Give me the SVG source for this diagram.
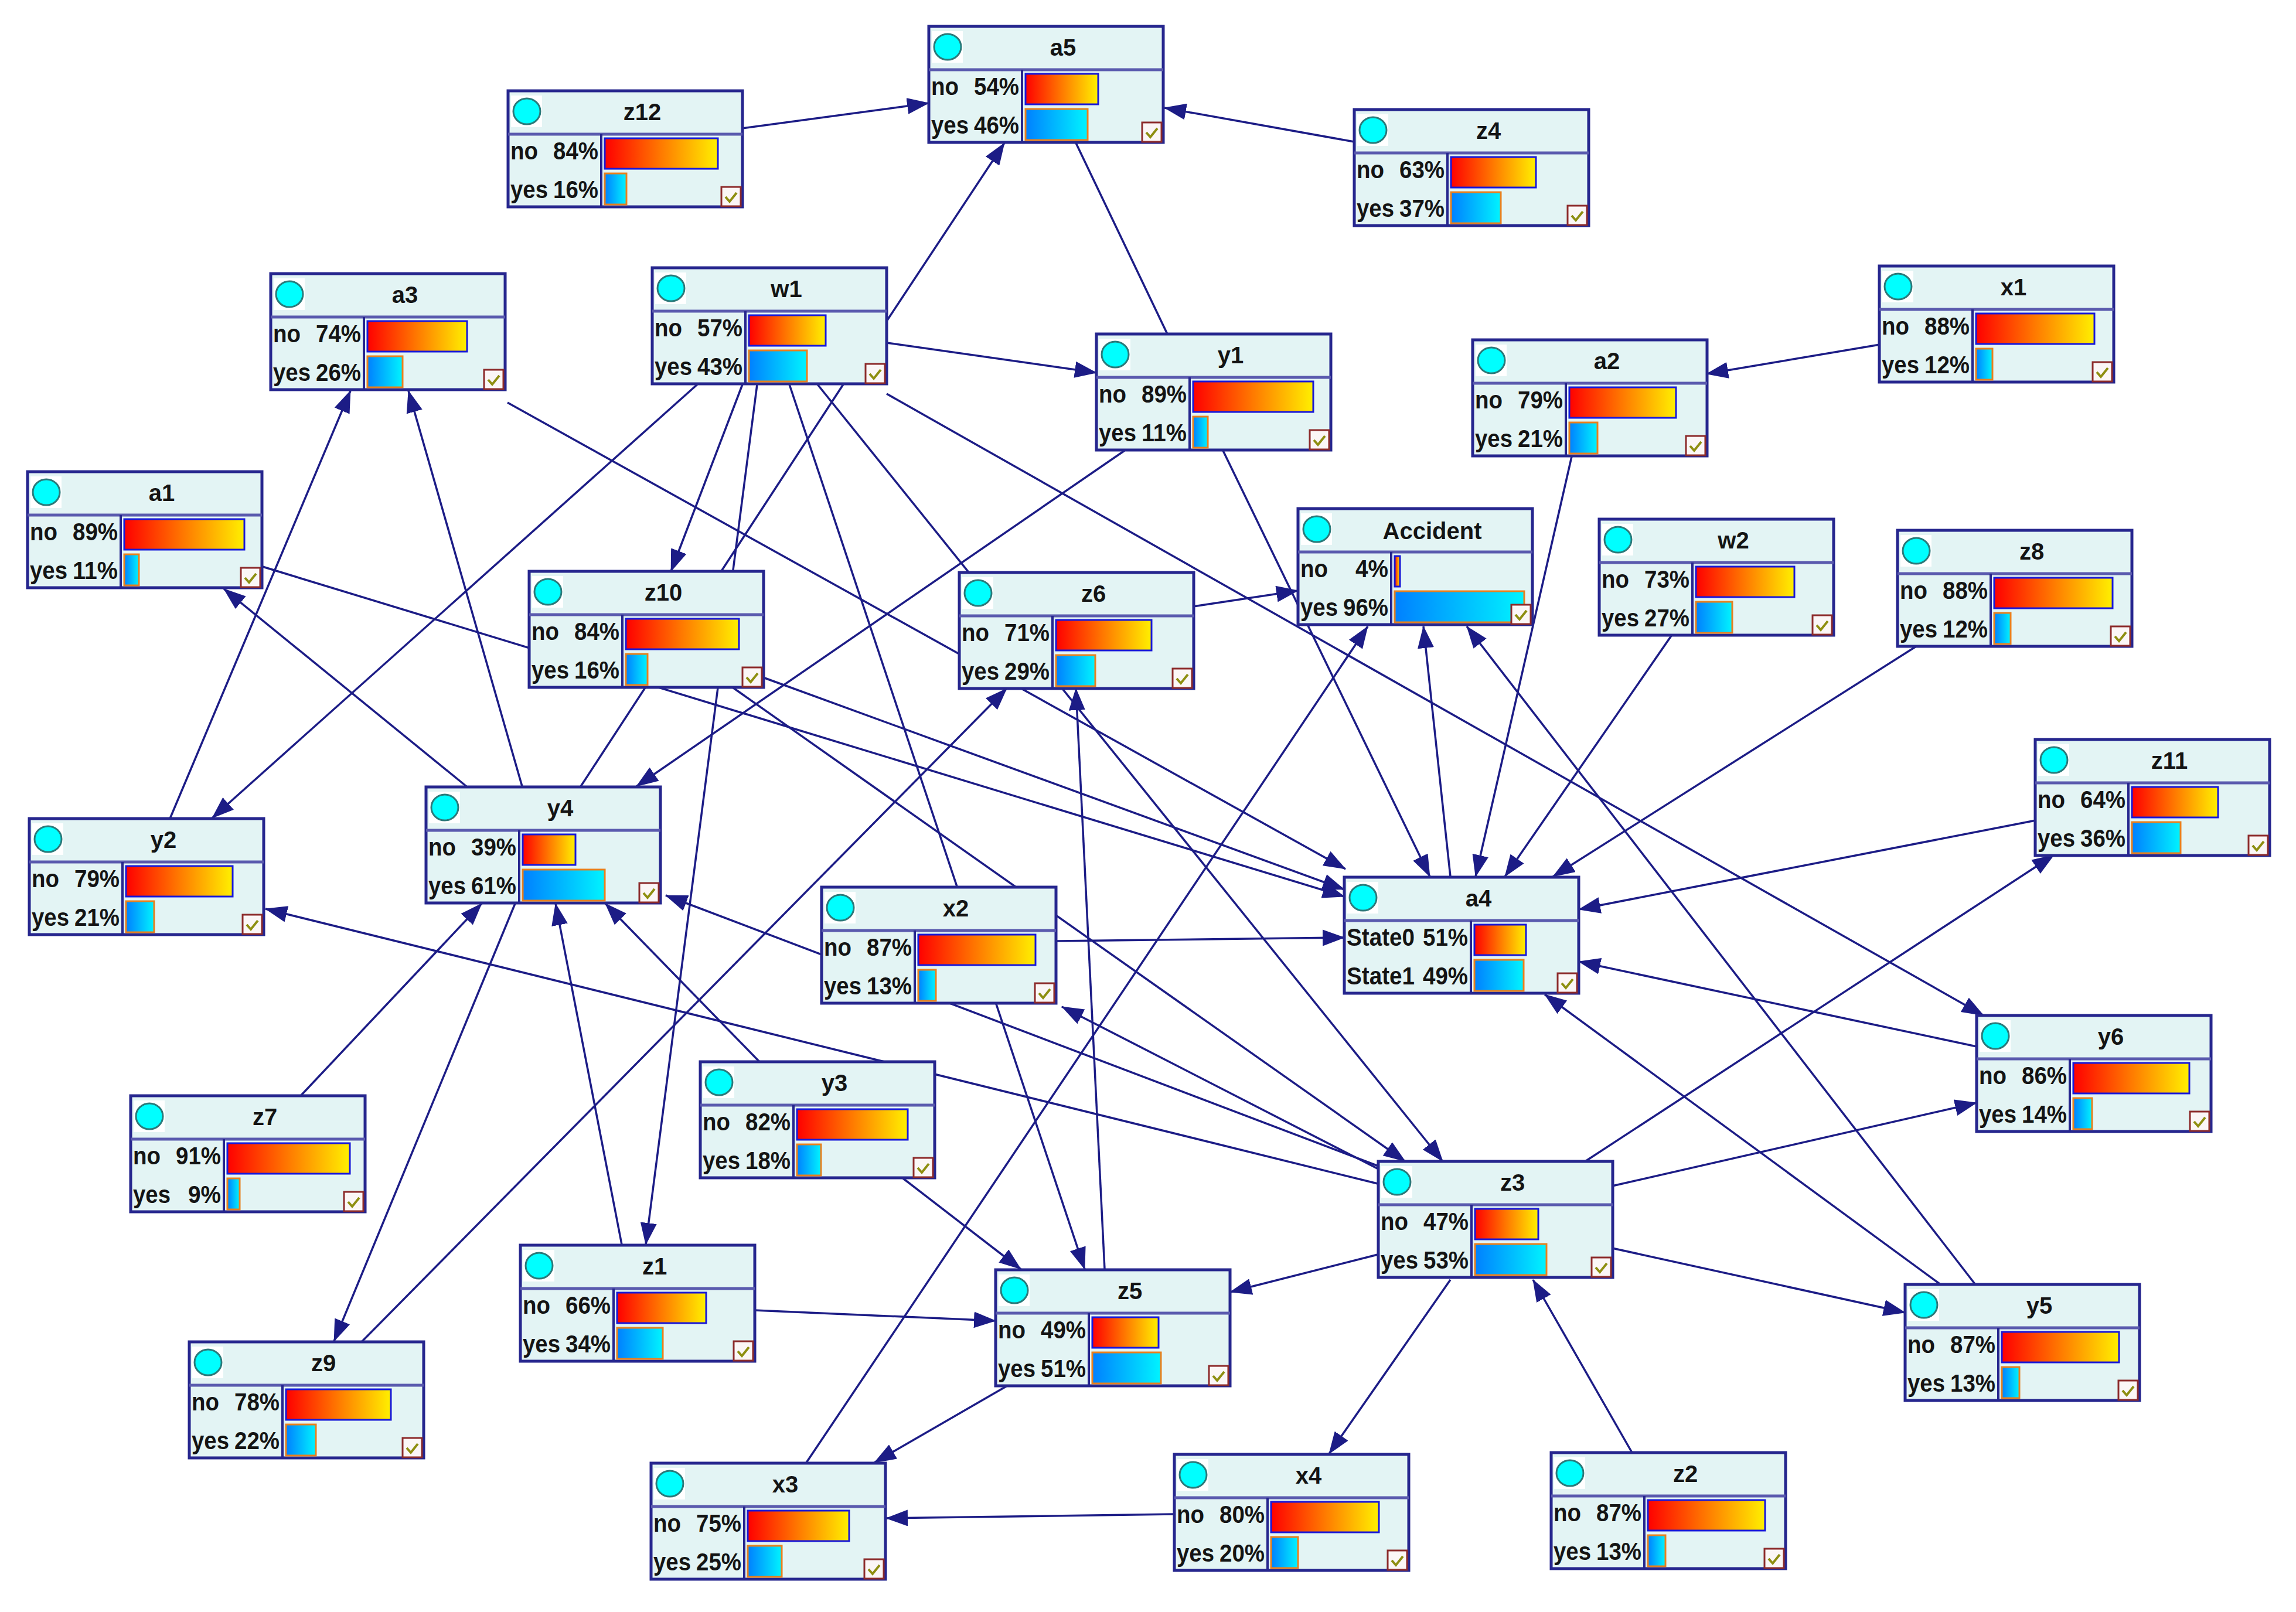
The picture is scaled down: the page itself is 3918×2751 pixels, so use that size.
<svg xmlns="http://www.w3.org/2000/svg" xmlns:xlink="http://www.w3.org/1999/xlink" width="3918" height="2751" viewBox="0 0 3918 2751">
<style>
.bg{fill:#FFFFFF}
.box{fill:#E3F4F4;stroke:#26268E;stroke-width:5}
.hdr{stroke:#5A5AAE;stroke-width:5}
.vd{stroke:#26268E;stroke-width:4}
.ib{fill:#FFFFFF}
.ic{fill:#00FFFF;stroke:#2A7A7A;stroke-width:3}
.ttl{font-family:"Liberation Sans",Arial,sans-serif;font-weight:bold;font-size:40px;text-anchor:middle;fill:#141414}
.lbl{font-family:"Liberation Sans",Arial,sans-serif;font-weight:bold;font-size:42px;fill:#141414}
.pct{font-family:"Liberation Sans",Arial,sans-serif;font-weight:bold;font-size:42px;fill:#141414;text-anchor:end}
.rb{fill:url(#gr);stroke:#1818D8;stroke-width:3}
.bb{fill:url(#gb);stroke:#E8801E;stroke-width:3}
.cn{stroke:#1C1C86;stroke-width:3.5;fill:none}
.ar{marker-end:url(#ah)}
</style>
<defs>
<linearGradient id="gr" x1="0" y1="0" x2="1" y2="0"><stop offset="0" stop-color="#FF0000"/><stop offset="0.5" stop-color="#FF7A00"/><stop offset="1" stop-color="#FFF000"/></linearGradient>
<linearGradient id="gb" x1="0" y1="0" x2="1" y2="0"><stop offset="0" stop-color="#0080FF"/><stop offset="1" stop-color="#00F4FF"/></linearGradient>
<marker id="ah" viewBox="0 0 38 28" refX="37" refY="14" markerWidth="38" markerHeight="28" markerUnits="userSpaceOnUse" orient="auto"><path d="M0,0 L38,14 L0,28 Z" fill="#1C1C86"/></marker>
<g id="chk"><rect x="364" y="164" width="33" height="33" fill="#FBF6F6" stroke="#8C2B2B" stroke-width="3"/><path d="M371,181 l7,8 l12,-15" fill="none" stroke="#8E8E10" stroke-width="4"/></g>
<g id="ico"><rect class="ib" x="5" y="8" width="53" height="54"/><ellipse class="ic" cx="32" cy="35" rx="23" ry="22"/></g>
</defs>
<rect class="bg" width="3918" height="2751"/>
<g id="connectors">
<line class="cn ar" x1="1267" y1="219" x2="1585" y2="176"/>
<line class="cn ar" x1="2311" y1="242" x2="1987" y2="184"/>
<line class="cn ar" x1="1513" y1="548" x2="1714" y2="244"/>
<line class="cn" x1="1836" y1="244" x2="1992" y2="570"/>
<line class="cn ar" x1="1513" y1="585" x2="1871" y2="636"/>
<line class="cn ar" x1="3208" y1="588" x2="2912" y2="638"/>
<line class="cn ar" x1="1190" y1="656" x2="362" y2="1396"/>
<line class="cn ar" x1="1267" y1="656" x2="1145" y2="975"/>
<line class="cn ar" x1="1292" y1="656" x2="1102" y2="2124"/>
<line class="cn ar" x1="1347" y1="656" x2="1851" y2="2166"/>
<line class="cn ar" x1="1395" y1="656" x2="2462" y2="1982"/>
<line class="cn ar" x1="1513" y1="672" x2="3385" y2="1733"/>
<line class="cn" x1="1439" y1="656" x2="991" y2="1342"/>
<line class="cn ar" x1="866" y1="687" x2="2296" y2="1483"/>
<line class="cn ar" x1="448" y1="967" x2="2294" y2="1530"/>
<line class="cn ar" x1="1302" y1="1156" x2="2294" y2="1518"/>
<line class="cn ar" x1="2087" y1="769" x2="2440" y2="1496"/>
<line class="cn ar" x1="2682" y1="779" x2="2518" y2="1496"/>
<line class="cn ar" x1="2852" y1="1085" x2="2568" y2="1496"/>
<line class="cn ar" x1="3270" y1="1103" x2="2650" y2="1496"/>
<line class="cn ar" x1="3474" y1="1400" x2="2694" y2="1552"/>
<line class="cn ar" x1="3373" y1="1786" x2="2694" y2="1641"/>
<line class="cn ar" x1="3310" y1="2191" x2="2636" y2="1697"/>
<line class="cn ar" x1="1802" y1="1606" x2="2294" y2="1600"/>
<line class="cn ar" x1="2475" y1="1496" x2="2429" y2="1069"/>
<line class="cn ar" x1="1376" y1="2496" x2="2334" y2="1069"/>
<line class="cn ar" x1="3370" y1="2191" x2="2503" y2="1069"/>
<line class="cn ar" x1="2036" y1="1035" x2="2215" y2="1008"/>
<line class="cn ar" x1="1919" y1="769" x2="1086" y2="1342"/>
<line class="cn ar" x1="796" y1="1342" x2="382" y2="1005"/>
<line class="cn ar" x1="891" y1="1342" x2="697" y2="667"/>
<line class="cn ar" x1="290" y1="1397" x2="598" y2="667"/>
<line class="cn ar" x1="514" y1="1869" x2="822" y2="1542"/>
<line class="cn ar" x1="879" y1="1542" x2="570" y2="2289"/>
<line class="cn ar" x1="1061" y1="2124" x2="948" y2="1542"/>
<line class="cn ar" x1="1296" y1="1812" x2="1033" y2="1542"/>
<line class="cn ar" x1="2352" y1="1990" x2="1136" y2="1528"/>
<line class="cn ar" x1="2352" y1="1995" x2="1812" y2="1718"/>
<line class="cn ar" x1="2351" y1="2020" x2="453" y2="1551"/>
<line class="cn ar" x1="618" y1="2289" x2="1718" y2="1175"/>
<line class="cn ar" x1="1885" y1="2166" x2="1836" y2="1175"/>
<line class="cn ar" x1="1250" y1="1173" x2="2398" y2="1982"/>
<line class="cn ar" x1="1541" y1="2011" x2="1742" y2="2166"/>
<line class="cn ar" x1="1287" y1="2236" x2="1699" y2="2254"/>
<line class="cn ar" x1="2351" y1="2141" x2="2099" y2="2205"/>
<line class="cn ar" x1="1717" y1="2366" x2="1492" y2="2496"/>
<line class="cn ar" x1="2004" y1="2584" x2="1512" y2="2591"/>
<line class="cn ar" x1="2475" y1="2184" x2="2268" y2="2481"/>
<line class="cn ar" x1="2785" y1="2479" x2="2616" y2="2184"/>
<line class="cn ar" x1="2705" y1="1982" x2="3505" y2="1459"/>
<line class="cn ar" x1="2751" y1="2024" x2="3373" y2="1882"/>
<line class="cn ar" x1="2751" y1="2130" x2="3251" y2="2240"/>
</g>
<g id="node-a5" transform="translate(1585,45)"><rect class="box" width="400" height="198"/><use href="#ico"/><line class="hdr" x1="0" y1="74" x2="400" y2="74"/><line class="vd" x1="159" y1="74" x2="159" y2="198"/><text class="ttl" x="229" y="50">a5</text><text class="lbl" x="4" y="117" textLength="47" lengthAdjust="spacingAndGlyphs">no</text><text class="pct" x="154" y="117" textLength="77" lengthAdjust="spacingAndGlyphs">54%</text><text class="lbl" x="4" y="183" textLength="64" lengthAdjust="spacingAndGlyphs">yes</text><text class="pct" x="154" y="183" textLength="77" lengthAdjust="spacingAndGlyphs">46%</text><rect class="rb" x="165" y="81" width="124" height="52"/><rect class="bb" x="165" y="141" width="106" height="53"/><use href="#chk"/></g>
<g id="node-z12" transform="translate(867,155)"><rect class="box" width="400" height="198"/><use href="#ico"/><line class="hdr" x1="0" y1="74" x2="400" y2="74"/><line class="vd" x1="159" y1="74" x2="159" y2="198"/><text class="ttl" x="229" y="50">z12</text><text class="lbl" x="4" y="117" textLength="47" lengthAdjust="spacingAndGlyphs">no</text><text class="pct" x="154" y="117" textLength="77" lengthAdjust="spacingAndGlyphs">84%</text><text class="lbl" x="4" y="183" textLength="64" lengthAdjust="spacingAndGlyphs">yes</text><text class="pct" x="154" y="183" textLength="77" lengthAdjust="spacingAndGlyphs">16%</text><rect class="rb" x="165" y="81" width="193" height="52"/><rect class="bb" x="165" y="141" width="37" height="53"/><use href="#chk"/></g>
<g id="node-z4" transform="translate(2311,187)"><rect class="box" width="400" height="198"/><use href="#ico"/><line class="hdr" x1="0" y1="74" x2="400" y2="74"/><line class="vd" x1="159" y1="74" x2="159" y2="198"/><text class="ttl" x="229" y="50">z4</text><text class="lbl" x="4" y="117" textLength="47" lengthAdjust="spacingAndGlyphs">no</text><text class="pct" x="154" y="117" textLength="77" lengthAdjust="spacingAndGlyphs">63%</text><text class="lbl" x="4" y="183" textLength="64" lengthAdjust="spacingAndGlyphs">yes</text><text class="pct" x="154" y="183" textLength="77" lengthAdjust="spacingAndGlyphs">37%</text><rect class="rb" x="165" y="81" width="145" height="52"/><rect class="bb" x="165" y="141" width="85" height="53"/><use href="#chk"/></g>
<g id="node-a3" transform="translate(462,467)"><rect class="box" width="400" height="198"/><use href="#ico"/><line class="hdr" x1="0" y1="74" x2="400" y2="74"/><line class="vd" x1="159" y1="74" x2="159" y2="198"/><text class="ttl" x="229" y="50">a3</text><text class="lbl" x="4" y="117" textLength="47" lengthAdjust="spacingAndGlyphs">no</text><text class="pct" x="154" y="117" textLength="77" lengthAdjust="spacingAndGlyphs">74%</text><text class="lbl" x="4" y="183" textLength="64" lengthAdjust="spacingAndGlyphs">yes</text><text class="pct" x="154" y="183" textLength="77" lengthAdjust="spacingAndGlyphs">26%</text><rect class="rb" x="165" y="81" width="170" height="52"/><rect class="bb" x="165" y="141" width="60" height="53"/><use href="#chk"/></g>
<g id="node-w1" transform="translate(1113,457)"><rect class="box" width="400" height="198"/><use href="#ico"/><line class="hdr" x1="0" y1="74" x2="400" y2="74"/><line class="vd" x1="159" y1="74" x2="159" y2="198"/><text class="ttl" x="229" y="50">w1</text><text class="lbl" x="4" y="117" textLength="47" lengthAdjust="spacingAndGlyphs">no</text><text class="pct" x="154" y="117" textLength="77" lengthAdjust="spacingAndGlyphs">57%</text><text class="lbl" x="4" y="183" textLength="64" lengthAdjust="spacingAndGlyphs">yes</text><text class="pct" x="154" y="183" textLength="77" lengthAdjust="spacingAndGlyphs">43%</text><rect class="rb" x="165" y="81" width="131" height="52"/><rect class="bb" x="165" y="141" width="99" height="53"/><use href="#chk"/></g>
<g id="node-y1" transform="translate(1871,570)"><rect class="box" width="400" height="198"/><use href="#ico"/><line class="hdr" x1="0" y1="74" x2="400" y2="74"/><line class="vd" x1="159" y1="74" x2="159" y2="198"/><text class="ttl" x="229" y="50">y1</text><text class="lbl" x="4" y="117" textLength="47" lengthAdjust="spacingAndGlyphs">no</text><text class="pct" x="154" y="117" textLength="77" lengthAdjust="spacingAndGlyphs">89%</text><text class="lbl" x="4" y="183" textLength="64" lengthAdjust="spacingAndGlyphs">yes</text><text class="pct" x="154" y="183" textLength="77" lengthAdjust="spacingAndGlyphs">11%</text><rect class="rb" x="165" y="81" width="205" height="52"/><rect class="bb" x="165" y="141" width="25" height="53"/><use href="#chk"/></g>
<g id="node-a2" transform="translate(2513,580)"><rect class="box" width="400" height="198"/><use href="#ico"/><line class="hdr" x1="0" y1="74" x2="400" y2="74"/><line class="vd" x1="159" y1="74" x2="159" y2="198"/><text class="ttl" x="229" y="50">a2</text><text class="lbl" x="4" y="117" textLength="47" lengthAdjust="spacingAndGlyphs">no</text><text class="pct" x="154" y="117" textLength="77" lengthAdjust="spacingAndGlyphs">79%</text><text class="lbl" x="4" y="183" textLength="64" lengthAdjust="spacingAndGlyphs">yes</text><text class="pct" x="154" y="183" textLength="77" lengthAdjust="spacingAndGlyphs">21%</text><rect class="rb" x="165" y="81" width="182" height="52"/><rect class="bb" x="165" y="141" width="48" height="53"/><use href="#chk"/></g>
<g id="node-x1" transform="translate(3207,454)"><rect class="box" width="400" height="198"/><use href="#ico"/><line class="hdr" x1="0" y1="74" x2="400" y2="74"/><line class="vd" x1="159" y1="74" x2="159" y2="198"/><text class="ttl" x="229" y="50">x1</text><text class="lbl" x="4" y="117" textLength="47" lengthAdjust="spacingAndGlyphs">no</text><text class="pct" x="154" y="117" textLength="77" lengthAdjust="spacingAndGlyphs">88%</text><text class="lbl" x="4" y="183" textLength="64" lengthAdjust="spacingAndGlyphs">yes</text><text class="pct" x="154" y="183" textLength="77" lengthAdjust="spacingAndGlyphs">12%</text><rect class="rb" x="165" y="81" width="202" height="52"/><rect class="bb" x="165" y="141" width="28" height="53"/><use href="#chk"/></g>
<g id="node-a1" transform="translate(47,805)"><rect class="box" width="400" height="198"/><use href="#ico"/><line class="hdr" x1="0" y1="74" x2="400" y2="74"/><line class="vd" x1="159" y1="74" x2="159" y2="198"/><text class="ttl" x="229" y="50">a1</text><text class="lbl" x="4" y="117" textLength="47" lengthAdjust="spacingAndGlyphs">no</text><text class="pct" x="154" y="117" textLength="77" lengthAdjust="spacingAndGlyphs">89%</text><text class="lbl" x="4" y="183" textLength="64" lengthAdjust="spacingAndGlyphs">yes</text><text class="pct" x="154" y="183" textLength="77" lengthAdjust="spacingAndGlyphs">11%</text><rect class="rb" x="165" y="81" width="205" height="52"/><rect class="bb" x="165" y="141" width="25" height="53"/><use href="#chk"/></g>
<g id="node-Accident" transform="translate(2215,868)"><rect class="box" width="400" height="198"/><use href="#ico"/><line class="hdr" x1="0" y1="74" x2="400" y2="74"/><line class="vd" x1="159" y1="74" x2="159" y2="198"/><text class="ttl" x="229" y="52">Accident</text><text class="lbl" x="4" y="117" textLength="47" lengthAdjust="spacingAndGlyphs">no</text><text class="pct" x="154" y="117" textLength="56" lengthAdjust="spacingAndGlyphs">4%</text><text class="lbl" x="4" y="183" textLength="64" lengthAdjust="spacingAndGlyphs">yes</text><text class="pct" x="154" y="183" textLength="77" lengthAdjust="spacingAndGlyphs">96%</text><rect class="rb" x="165" y="81" width="9" height="52"/><rect class="bb" x="165" y="141" width="221" height="53"/><use href="#chk"/></g>
<g id="node-w2" transform="translate(2729,886)"><rect class="box" width="400" height="198"/><use href="#ico"/><line class="hdr" x1="0" y1="74" x2="400" y2="74"/><line class="vd" x1="159" y1="74" x2="159" y2="198"/><text class="ttl" x="229" y="50">w2</text><text class="lbl" x="4" y="117" textLength="47" lengthAdjust="spacingAndGlyphs">no</text><text class="pct" x="154" y="117" textLength="77" lengthAdjust="spacingAndGlyphs">73%</text><text class="lbl" x="4" y="183" textLength="64" lengthAdjust="spacingAndGlyphs">yes</text><text class="pct" x="154" y="183" textLength="77" lengthAdjust="spacingAndGlyphs">27%</text><rect class="rb" x="165" y="81" width="168" height="52"/><rect class="bb" x="165" y="141" width="62" height="53"/><use href="#chk"/></g>
<g id="node-z8" transform="translate(3238,905)"><rect class="box" width="400" height="198"/><use href="#ico"/><line class="hdr" x1="0" y1="74" x2="400" y2="74"/><line class="vd" x1="159" y1="74" x2="159" y2="198"/><text class="ttl" x="229" y="50">z8</text><text class="lbl" x="4" y="117" textLength="47" lengthAdjust="spacingAndGlyphs">no</text><text class="pct" x="154" y="117" textLength="77" lengthAdjust="spacingAndGlyphs">88%</text><text class="lbl" x="4" y="183" textLength="64" lengthAdjust="spacingAndGlyphs">yes</text><text class="pct" x="154" y="183" textLength="77" lengthAdjust="spacingAndGlyphs">12%</text><rect class="rb" x="165" y="81" width="202" height="52"/><rect class="bb" x="165" y="141" width="28" height="53"/><use href="#chk"/></g>
<g id="node-z10" transform="translate(903,975)"><rect class="box" width="400" height="198"/><use href="#ico"/><line class="hdr" x1="0" y1="74" x2="400" y2="74"/><line class="vd" x1="159" y1="74" x2="159" y2="198"/><text class="ttl" x="229" y="50">z10</text><text class="lbl" x="4" y="117" textLength="47" lengthAdjust="spacingAndGlyphs">no</text><text class="pct" x="154" y="117" textLength="77" lengthAdjust="spacingAndGlyphs">84%</text><text class="lbl" x="4" y="183" textLength="64" lengthAdjust="spacingAndGlyphs">yes</text><text class="pct" x="154" y="183" textLength="77" lengthAdjust="spacingAndGlyphs">16%</text><rect class="rb" x="165" y="81" width="193" height="52"/><rect class="bb" x="165" y="141" width="37" height="53"/><use href="#chk"/></g>
<g id="node-z6" transform="translate(1637,977)"><rect class="box" width="400" height="198"/><use href="#ico"/><line class="hdr" x1="0" y1="74" x2="400" y2="74"/><line class="vd" x1="159" y1="74" x2="159" y2="198"/><text class="ttl" x="229" y="50">z6</text><text class="lbl" x="4" y="117" textLength="47" lengthAdjust="spacingAndGlyphs">no</text><text class="pct" x="154" y="117" textLength="77" lengthAdjust="spacingAndGlyphs">71%</text><text class="lbl" x="4" y="183" textLength="64" lengthAdjust="spacingAndGlyphs">yes</text><text class="pct" x="154" y="183" textLength="77" lengthAdjust="spacingAndGlyphs">29%</text><rect class="rb" x="165" y="81" width="163" height="52"/><rect class="bb" x="165" y="141" width="67" height="53"/><use href="#chk"/></g>
<g id="node-z11" transform="translate(3473,1262)"><rect class="box" width="400" height="198"/><use href="#ico"/><line class="hdr" x1="0" y1="74" x2="400" y2="74"/><line class="vd" x1="159" y1="74" x2="159" y2="198"/><text class="ttl" x="229" y="50">z11</text><text class="lbl" x="4" y="117" textLength="47" lengthAdjust="spacingAndGlyphs">no</text><text class="pct" x="154" y="117" textLength="77" lengthAdjust="spacingAndGlyphs">64%</text><text class="lbl" x="4" y="183" textLength="64" lengthAdjust="spacingAndGlyphs">yes</text><text class="pct" x="154" y="183" textLength="77" lengthAdjust="spacingAndGlyphs">36%</text><rect class="rb" x="165" y="81" width="147" height="52"/><rect class="bb" x="165" y="141" width="83" height="53"/><use href="#chk"/></g>
<g id="node-y2" transform="translate(50,1397)"><rect class="box" width="400" height="198"/><use href="#ico"/><line class="hdr" x1="0" y1="74" x2="400" y2="74"/><line class="vd" x1="159" y1="74" x2="159" y2="198"/><text class="ttl" x="229" y="50">y2</text><text class="lbl" x="4" y="117" textLength="47" lengthAdjust="spacingAndGlyphs">no</text><text class="pct" x="154" y="117" textLength="77" lengthAdjust="spacingAndGlyphs">79%</text><text class="lbl" x="4" y="183" textLength="64" lengthAdjust="spacingAndGlyphs">yes</text><text class="pct" x="154" y="183" textLength="77" lengthAdjust="spacingAndGlyphs">21%</text><rect class="rb" x="165" y="81" width="182" height="52"/><rect class="bb" x="165" y="141" width="48" height="53"/><use href="#chk"/></g>
<g id="node-y4" transform="translate(727,1343)"><rect class="box" width="400" height="198"/><use href="#ico"/><line class="hdr" x1="0" y1="74" x2="400" y2="74"/><line class="vd" x1="159" y1="74" x2="159" y2="198"/><text class="ttl" x="229" y="50">y4</text><text class="lbl" x="4" y="117" textLength="47" lengthAdjust="spacingAndGlyphs">no</text><text class="pct" x="154" y="117" textLength="77" lengthAdjust="spacingAndGlyphs">39%</text><text class="lbl" x="4" y="183" textLength="64" lengthAdjust="spacingAndGlyphs">yes</text><text class="pct" x="154" y="183" textLength="77" lengthAdjust="spacingAndGlyphs">61%</text><rect class="rb" x="165" y="81" width="90" height="52"/><rect class="bb" x="165" y="141" width="140" height="53"/><use href="#chk"/></g>
<g id="node-x2" transform="translate(1402,1514)"><rect class="box" width="400" height="198"/><use href="#ico"/><line class="hdr" x1="0" y1="74" x2="400" y2="74"/><line class="vd" x1="159" y1="74" x2="159" y2="198"/><text class="ttl" x="229" y="50">x2</text><text class="lbl" x="4" y="117" textLength="47" lengthAdjust="spacingAndGlyphs">no</text><text class="pct" x="154" y="117" textLength="77" lengthAdjust="spacingAndGlyphs">87%</text><text class="lbl" x="4" y="183" textLength="64" lengthAdjust="spacingAndGlyphs">yes</text><text class="pct" x="154" y="183" textLength="77" lengthAdjust="spacingAndGlyphs">13%</text><rect class="rb" x="165" y="81" width="200" height="52"/><rect class="bb" x="165" y="141" width="30" height="53"/><use href="#chk"/></g>
<g id="node-a4" transform="translate(2294,1497)"><rect class="box" width="400" height="198"/><use href="#ico"/><line class="hdr" x1="0" y1="74" x2="400" y2="74"/><line class="vd" x1="216" y1="74" x2="216" y2="198"/><text class="ttl" x="229" y="50">a4</text><text class="lbl" x="4" y="117" textLength="116" lengthAdjust="spacingAndGlyphs">State0</text><text class="pct" x="211" y="117" textLength="77" lengthAdjust="spacingAndGlyphs">51%</text><text class="lbl" x="4" y="183" textLength="116" lengthAdjust="spacingAndGlyphs">State1</text><text class="pct" x="211" y="183" textLength="77" lengthAdjust="spacingAndGlyphs">49%</text><rect class="rb" x="222" y="81" width="88" height="52"/><rect class="bb" x="222" y="141" width="84" height="53"/><use href="#chk"/></g>
<g id="node-y6" transform="translate(3373,1733)"><rect class="box" width="400" height="198"/><use href="#ico"/><line class="hdr" x1="0" y1="74" x2="400" y2="74"/><line class="vd" x1="159" y1="74" x2="159" y2="198"/><text class="ttl" x="229" y="50">y6</text><text class="lbl" x="4" y="117" textLength="47" lengthAdjust="spacingAndGlyphs">no</text><text class="pct" x="154" y="117" textLength="77" lengthAdjust="spacingAndGlyphs">86%</text><text class="lbl" x="4" y="183" textLength="64" lengthAdjust="spacingAndGlyphs">yes</text><text class="pct" x="154" y="183" textLength="77" lengthAdjust="spacingAndGlyphs">14%</text><rect class="rb" x="165" y="81" width="198" height="52"/><rect class="bb" x="165" y="141" width="32" height="53"/><use href="#chk"/></g>
<g id="node-z7" transform="translate(223,1870)"><rect class="box" width="400" height="198"/><use href="#ico"/><line class="hdr" x1="0" y1="74" x2="400" y2="74"/><line class="vd" x1="159" y1="74" x2="159" y2="198"/><text class="ttl" x="229" y="50">z7</text><text class="lbl" x="4" y="117" textLength="47" lengthAdjust="spacingAndGlyphs">no</text><text class="pct" x="154" y="117" textLength="77" lengthAdjust="spacingAndGlyphs">91%</text><text class="lbl" x="4" y="183" textLength="64" lengthAdjust="spacingAndGlyphs">yes</text><text class="pct" x="154" y="183" textLength="56" lengthAdjust="spacingAndGlyphs">9%</text><rect class="rb" x="165" y="81" width="209" height="52"/><rect class="bb" x="165" y="141" width="21" height="53"/><use href="#chk"/></g>
<g id="node-y3" transform="translate(1195,1812)"><rect class="box" width="400" height="198"/><use href="#ico"/><line class="hdr" x1="0" y1="74" x2="400" y2="74"/><line class="vd" x1="159" y1="74" x2="159" y2="198"/><text class="ttl" x="229" y="50">y3</text><text class="lbl" x="4" y="117" textLength="47" lengthAdjust="spacingAndGlyphs">no</text><text class="pct" x="154" y="117" textLength="77" lengthAdjust="spacingAndGlyphs">82%</text><text class="lbl" x="4" y="183" textLength="64" lengthAdjust="spacingAndGlyphs">yes</text><text class="pct" x="154" y="183" textLength="77" lengthAdjust="spacingAndGlyphs">18%</text><rect class="rb" x="165" y="81" width="189" height="52"/><rect class="bb" x="165" y="141" width="41" height="53"/><use href="#chk"/></g>
<g id="node-z3" transform="translate(2352,1982)"><rect class="box" width="400" height="198"/><use href="#ico"/><line class="hdr" x1="0" y1="74" x2="400" y2="74"/><line class="vd" x1="159" y1="74" x2="159" y2="198"/><text class="ttl" x="229" y="50">z3</text><text class="lbl" x="4" y="117" textLength="47" lengthAdjust="spacingAndGlyphs">no</text><text class="pct" x="154" y="117" textLength="77" lengthAdjust="spacingAndGlyphs">47%</text><text class="lbl" x="4" y="183" textLength="64" lengthAdjust="spacingAndGlyphs">yes</text><text class="pct" x="154" y="183" textLength="77" lengthAdjust="spacingAndGlyphs">53%</text><rect class="rb" x="165" y="81" width="108" height="52"/><rect class="bb" x="165" y="141" width="122" height="53"/><use href="#chk"/></g>
<g id="node-z1" transform="translate(888,2125)"><rect class="box" width="400" height="198"/><use href="#ico"/><line class="hdr" x1="0" y1="74" x2="400" y2="74"/><line class="vd" x1="159" y1="74" x2="159" y2="198"/><text class="ttl" x="229" y="50">z1</text><text class="lbl" x="4" y="117" textLength="47" lengthAdjust="spacingAndGlyphs">no</text><text class="pct" x="154" y="117" textLength="77" lengthAdjust="spacingAndGlyphs">66%</text><text class="lbl" x="4" y="183" textLength="64" lengthAdjust="spacingAndGlyphs">yes</text><text class="pct" x="154" y="183" textLength="77" lengthAdjust="spacingAndGlyphs">34%</text><rect class="rb" x="165" y="81" width="152" height="52"/><rect class="bb" x="165" y="141" width="78" height="53"/><use href="#chk"/></g>
<g id="node-z5" transform="translate(1699,2167)"><rect class="box" width="400" height="198"/><use href="#ico"/><line class="hdr" x1="0" y1="74" x2="400" y2="74"/><line class="vd" x1="159" y1="74" x2="159" y2="198"/><text class="ttl" x="229" y="50">z5</text><text class="lbl" x="4" y="117" textLength="47" lengthAdjust="spacingAndGlyphs">no</text><text class="pct" x="154" y="117" textLength="77" lengthAdjust="spacingAndGlyphs">49%</text><text class="lbl" x="4" y="183" textLength="64" lengthAdjust="spacingAndGlyphs">yes</text><text class="pct" x="154" y="183" textLength="77" lengthAdjust="spacingAndGlyphs">51%</text><rect class="rb" x="165" y="81" width="113" height="52"/><rect class="bb" x="165" y="141" width="117" height="53"/><use href="#chk"/></g>
<g id="node-y5" transform="translate(3251,2192)"><rect class="box" width="400" height="198"/><use href="#ico"/><line class="hdr" x1="0" y1="74" x2="400" y2="74"/><line class="vd" x1="159" y1="74" x2="159" y2="198"/><text class="ttl" x="229" y="50">y5</text><text class="lbl" x="4" y="117" textLength="47" lengthAdjust="spacingAndGlyphs">no</text><text class="pct" x="154" y="117" textLength="77" lengthAdjust="spacingAndGlyphs">87%</text><text class="lbl" x="4" y="183" textLength="64" lengthAdjust="spacingAndGlyphs">yes</text><text class="pct" x="154" y="183" textLength="77" lengthAdjust="spacingAndGlyphs">13%</text><rect class="rb" x="165" y="81" width="200" height="52"/><rect class="bb" x="165" y="141" width="30" height="53"/><use href="#chk"/></g>
<g id="node-z9" transform="translate(323,2290)"><rect class="box" width="400" height="198"/><use href="#ico"/><line class="hdr" x1="0" y1="74" x2="400" y2="74"/><line class="vd" x1="159" y1="74" x2="159" y2="198"/><text class="ttl" x="229" y="50">z9</text><text class="lbl" x="4" y="117" textLength="47" lengthAdjust="spacingAndGlyphs">no</text><text class="pct" x="154" y="117" textLength="77" lengthAdjust="spacingAndGlyphs">78%</text><text class="lbl" x="4" y="183" textLength="64" lengthAdjust="spacingAndGlyphs">yes</text><text class="pct" x="154" y="183" textLength="77" lengthAdjust="spacingAndGlyphs">22%</text><rect class="rb" x="165" y="81" width="179" height="52"/><rect class="bb" x="165" y="141" width="51" height="53"/><use href="#chk"/></g>
<g id="node-x3" transform="translate(1111,2497)"><rect class="box" width="400" height="198"/><use href="#ico"/><line class="hdr" x1="0" y1="74" x2="400" y2="74"/><line class="vd" x1="159" y1="74" x2="159" y2="198"/><text class="ttl" x="229" y="50">x3</text><text class="lbl" x="4" y="117" textLength="47" lengthAdjust="spacingAndGlyphs">no</text><text class="pct" x="154" y="117" textLength="77" lengthAdjust="spacingAndGlyphs">75%</text><text class="lbl" x="4" y="183" textLength="64" lengthAdjust="spacingAndGlyphs">yes</text><text class="pct" x="154" y="183" textLength="77" lengthAdjust="spacingAndGlyphs">25%</text><rect class="rb" x="165" y="81" width="173" height="52"/><rect class="bb" x="165" y="141" width="58" height="53"/><use href="#chk"/></g>
<g id="node-x4" transform="translate(2004,2482)"><rect class="box" width="400" height="198"/><use href="#ico"/><line class="hdr" x1="0" y1="74" x2="400" y2="74"/><line class="vd" x1="159" y1="74" x2="159" y2="198"/><text class="ttl" x="229" y="50">x4</text><text class="lbl" x="4" y="117" textLength="47" lengthAdjust="spacingAndGlyphs">no</text><text class="pct" x="154" y="117" textLength="77" lengthAdjust="spacingAndGlyphs">80%</text><text class="lbl" x="4" y="183" textLength="64" lengthAdjust="spacingAndGlyphs">yes</text><text class="pct" x="154" y="183" textLength="77" lengthAdjust="spacingAndGlyphs">20%</text><rect class="rb" x="165" y="81" width="184" height="52"/><rect class="bb" x="165" y="141" width="46" height="53"/><use href="#chk"/></g>
<g id="node-z2" transform="translate(2647,2479)"><rect class="box" width="400" height="198"/><use href="#ico"/><line class="hdr" x1="0" y1="74" x2="400" y2="74"/><line class="vd" x1="159" y1="74" x2="159" y2="198"/><text class="ttl" x="229" y="50">z2</text><text class="lbl" x="4" y="117" textLength="47" lengthAdjust="spacingAndGlyphs">no</text><text class="pct" x="154" y="117" textLength="77" lengthAdjust="spacingAndGlyphs">87%</text><text class="lbl" x="4" y="183" textLength="64" lengthAdjust="spacingAndGlyphs">yes</text><text class="pct" x="154" y="183" textLength="77" lengthAdjust="spacingAndGlyphs">13%</text><rect class="rb" x="165" y="81" width="200" height="52"/><rect class="bb" x="165" y="141" width="30" height="53"/><use href="#chk"/></g>
</svg>
